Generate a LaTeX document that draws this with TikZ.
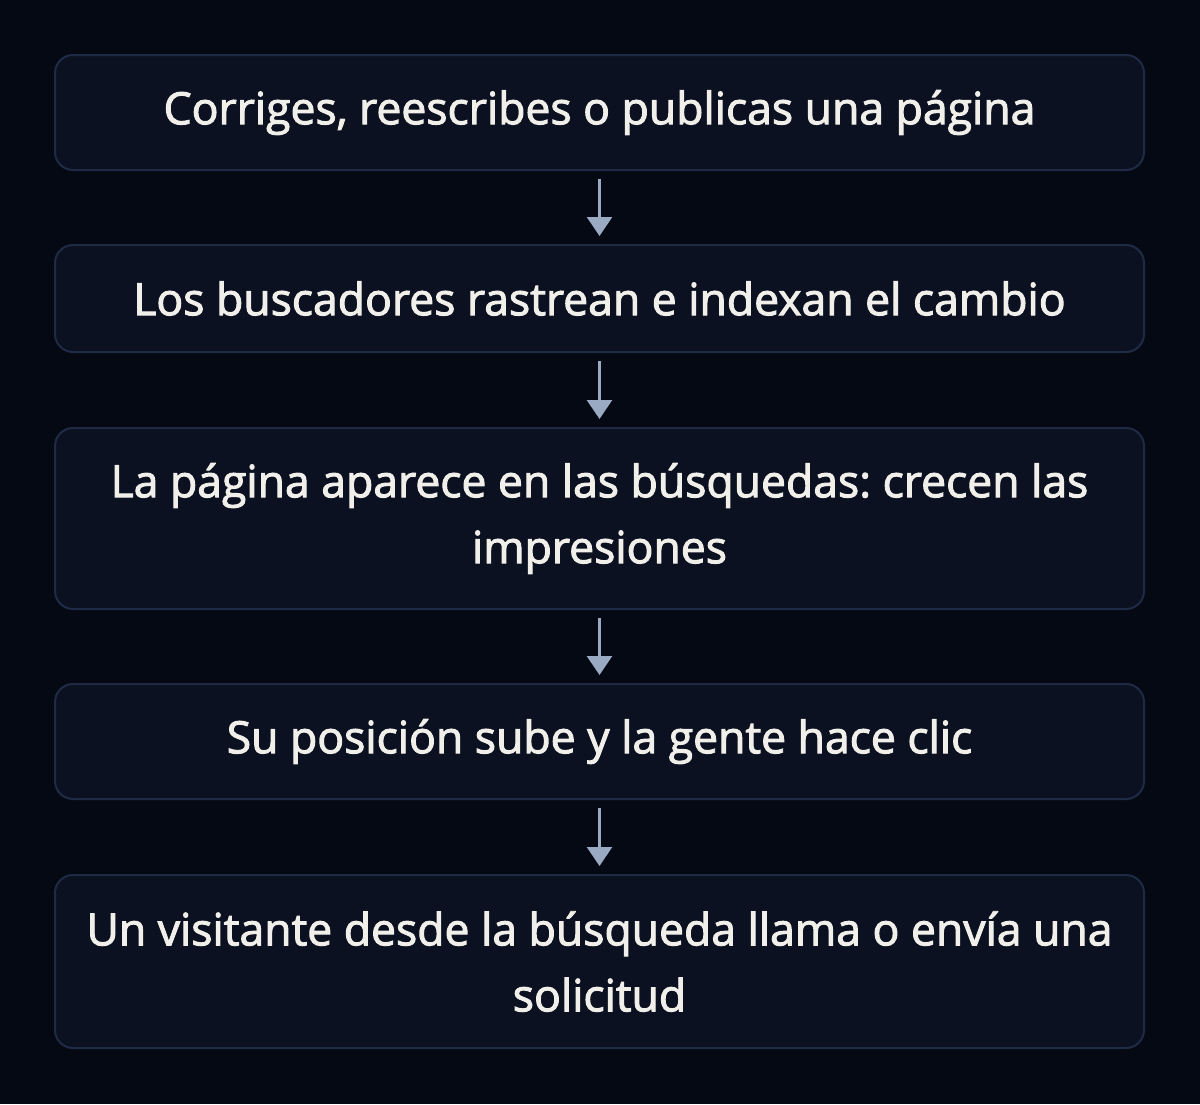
\documentclass[tikz,border=0pt]{standalone}
\usepackage{fontspec}
\setmainfont{Open Sans}[FakeBold=2.2]
\usetikzlibrary{arrows.meta}
\usetikzlibrary{calc}
\frenchspacing

\definecolor{hatter}{HTML}{050914}
\definecolor{doboz}{HTML}{0B1120}
\definecolor{keret}{HTML}{1F2B45}
\definecolor{szoveg}{HTML}{F1EFEA}
\definecolor{nyil}{HTML}{9AAAC2}

\begin{document}
\begin{tikzpicture}[%
x=1pt, y=1pt,
>={Triangle[width=25pt,length=19pt]},
lepes/.style={draw=keret, fill=doboz, line width=2pt, rounded corners=18pt,
  minimum width=1089pt, inner sep=0pt, align=center, text=szoveg,
  font=\fontsize{44.5}{66}\selectfont},
kovet/.style={->, draw=nyil, fill=nyil, line width=2.5pt, shorten <=8pt, shorten >=8pt},
]

% hatter
\fill[hatter] (0,0) rectangle (1200,-1104);
\useasboundingbox (0,0) rectangle (1200,-1104);

\pgfmathsetmacro{\kozep}{599.5}

\node[lepes, minimum height=115pt](l1) at (\kozep,-112.5){Corriges, reescribes o publicas una página};
\node[lepes, minimum height=107pt](l2) at (\kozep,-298.5){Los buscadores rastrean e indexan el cambio};
\node[lepes, minimum height=181pt](l3) at (\kozep,-518.5){La página aparece en las búsquedas: crecen las\\impresiones};
\node[lepes, minimum height=115pt](l4) at (\kozep,-741.5){Su posición sube y la gente hace clic};
\node[lepes, minimum height=173pt](l5) at (\kozep,-961.5){Un visitante desde la búsqueda llama o envía una\\solicitud};

\draw[kovet] (l1)--(l2);
\draw[kovet] (l2)--(l3);
\draw[kovet] (l3)--(l4);
\draw[kovet] (l4)--(l5);

\end{tikzpicture}
\end{document}
